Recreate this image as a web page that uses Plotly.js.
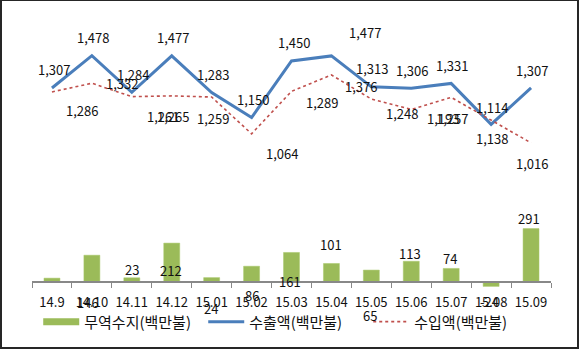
<!DOCTYPE html>
<html>
<head>
<meta charset="utf-8">
<script src="https://cdn.plot.ly/plotly-3.0.1.min.js"></script>
<style>
  html, body { margin: 0; padding: 0; background: #fff; }
  #chart { position: absolute; left: 0; top: 0; width: 580px; height: 351px; }
  #frame { position: absolute; left: 0; top: 0; width: 575px; height: 346px;
           border-top: 1px solid #262626; border-left: 2px solid #262626;
           border-right: 2px solid #262626; border-bottom: 2px solid #262626;
           pointer-events: none; }
</style>
</head>
<body>
<div id="chart"></div>
<div id="frame"></div>
<script>
// ---- data ----
const categories = ['14.9','14.10','14.11','14.12','15.01','15.02','15.03','15.04','15.05','15.06','15.07','15.08','15.09'];
const balance = [21, 146, 23, 212, 24, 86, 161, 101, 65, 113, 74, -24, 291];
const exportsV = [1307, 1478, 1284, 1477, 1283, 1150, 1450, 1477, 1313, 1306, 1331, 1114, 1307];
const importsV = [1286, 1332, 1261, 1265, 1259, 1064, 1289, 1376, 1248, 1193, 1257, 1138, 1016];
const seriesNames = ['무역수지(백만불)', '수출액(백만불)', '수입액(백만불)'];

// ---- label placement (pixel offsets, as in the original) ----
const expOff = [[2,18],[1,18],[1,18],[1,18],[1,18],[1,18],[2,18],[34,23],[1,18],[1,18],[1,18],[1,17],[1,17]];
const impOff = [[30,-19],[30,0],[31,-20],[1,-21],[1,-21],[30,-20],[30,-11],[30,-12],[31,-14.5],[32,-9],[1,-21.5],[1,-18.5],[1,-20.5]];
const balOff = [null,[-4,-47],[0,8.5],[-1,-27.5],[-1,-30.5],[0,-29],[-2,-29.5],[0,18.5],[-1,-45.5],[-1,7.5],[-1,9.5],[-2,-15.5],[-2,10.5]];

const green = '#9BBB59', blue = '#4A7EBB', red = '#C0504D';
const fmt = v => v.toLocaleString('en-US');
const labelFont = {family: 'Noto Sans CJK KR, Noto Sans, sans-serif', size: 13, color: '#111'};

// axis ranges: bars (primary) and lines (secondary), scaled as in the original
const barRange = [-43.6, 1482.4];
const lineRange = [236.2, 1720.2];
const zeroPos = (0 - barRange[0]) / (barRange[1] - barRange[0]);

const traces = [
  {type: 'bar', x: categories, y: balance, name: seriesNames[0], marker: {color: green, line: {color: '#a9c86b', width: 0.5}},
   showlegend: false, yaxis: 'y', hoverinfo: 'skip'},
  {type: 'scatter', mode: 'lines', x: [categories[0]], y: [null], name: seriesNames[0],
   line: {color: green, width: 7}, yaxis: 'y', hoverinfo: 'skip'},
  {type: 'scatter', mode: 'lines', x: categories, y: exportsV, name: seriesNames[1],
   line: {color: blue, width: 3}, yaxis: 'y2', cliponaxis: false, hoverinfo: 'skip'},
  {type: 'scatter', mode: 'lines', x: categories, y: importsV, name: seriesNames[2],
   line: {color: red, width: 1.6, dash: 'dot'}, yaxis: 'y2', cliponaxis: false, hoverinfo: 'skip'}
];

const annotations = [];
categories.forEach((c, i) => {
  annotations.push({x: i, y: exportsV[i], xref: 'x', yref: 'y2', text: fmt(exportsV[i]), showarrow: false,
    xanchor: 'center', yanchor: 'middle', xshift: expOff[i][0], yshift: expOff[i][1], font: labelFont});
  annotations.push({x: i, y: importsV[i], xref: 'x', yref: 'y2', text: fmt(importsV[i]), showarrow: false,
    xanchor: 'center', yanchor: 'middle', xshift: impOff[i][0], yshift: impOff[i][1], font: labelFont});
  if (balOff[i]) {
    annotations.push({x: i, y: balance[i], xref: 'x', yref: 'y', text: fmt(balance[i]), showarrow: false,
      xanchor: 'center', yanchor: 'middle', xshift: balOff[i][0], yshift: balOff[i][1], font: labelFont});
  }
});

const layout = {
  width: 580, height: 351,
  margin: {l: 32, r: 29, t: 10, b: 61},
  paper_bgcolor: '#fff', plot_bgcolor: 'rgba(0,0,0,0)',
  bargap: 0.6,
  showlegend: true,
  legend: {orientation: 'h', x: 0.012, xanchor: 'left', y: -0.114, yanchor: 'middle',
    font: {family: 'Noto Sans CJK KR, sans-serif', size: 15, color: '#111'},
    itemwidth: 36, entrywidth: 114, bgcolor: 'rgba(0,0,0,0)'},
  xaxis: {type: 'category', anchor: 'free', position: zeroPos,
    showline: true, linecolor: '#888', linewidth: 2,
    ticks: 'outside', tickson: 'boundaries', ticklen: 5, tickcolor: '#888', tickwidth: 1, tickangle: 0,
    ticklabelstandoff: 8,
    showgrid: false, zeroline: false, fixedrange: true,
    tickfont: {family: 'Noto Sans CJK KR, Noto Sans, sans-serif', size: 13, color: '#111'}},
  yaxis: {range: barRange, visible: false, showgrid: false, zeroline: false, fixedrange: true},
  yaxis2: {range: lineRange, overlaying: 'y', side: 'right', visible: false, showgrid: false, zeroline: false, fixedrange: true},
  annotations: annotations
};

Plotly.newPlot('chart', traces, layout, {staticPlot: true, displayModeBar: false});
</script>
</body>
</html>
